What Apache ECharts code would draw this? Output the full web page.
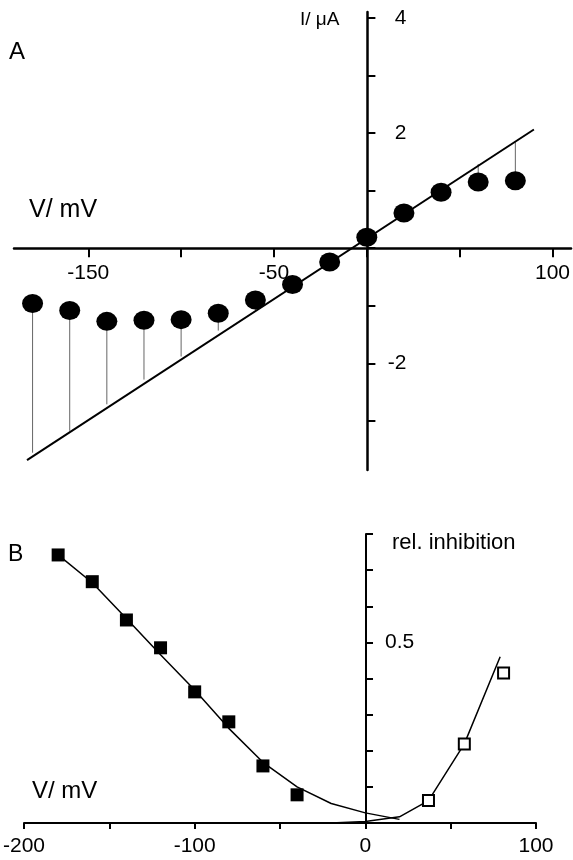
<!DOCTYPE html>
<html>
<head>
<meta charset="utf-8">
<script src="https://cdn.jsdelivr.net/npm/echarts@6/dist/echarts.min.js"></script>
<style>
  html, body { margin: 0; padding: 0; background: #fff; }
  #chart { width: 573px; height: 860px; }
</style>
</head>
<body>
<div id="chart"></div>
<script>
// Panel A: current-voltage relation
const voltA = [-180, -160, -140, -120, -100, -80, -60, -40, -20, 0, 20, 40, 60, 80];
const currentA = [-0.96, -1.08, -1.27, -1.25, -1.24, -1.13, -0.90, -0.63, -0.24, 0.19, 0.61, 0.97, 1.15, 1.17];
// where each thin drop line meets the straight line
const dropA = [-3.55, -3.17, -2.71, -2.28, -1.88, -1.43, -1.08, -0.65, -0.23, 0.19, 0.61, 1.03, 1.46, 1.84];
const fitVoltA = [-183, 90];
const fitCurrentA = [-3.68, 2.06];
const ticksXA = [-150, -100, -50, 0, 50, 100];
const labelsXA = [-150, -50, 100];
const ticksYA = [-3, -2, -1, 0, 1, 2, 3, 4];
const labelsYA = [-2, 2, 4];

// Panel B: relative inhibition
const voltB = [-180, -160, -140, -120, -100, -80, -60, -40];
const inhibB = [0.742, 0.668, 0.562, 0.485, 0.363, 0.280, 0.158, 0.078];
const voltBOpen = [37, 58, 81];
const inhibBOpen = [0.062, 0.219, 0.415];
const fitVoltB = [-180, -160, -140, -120, -100, -80, -60, -40, -20, 0, 20];
const fitInhibB = [0.742, 0.665, 0.566, 0.466, 0.368, 0.262, 0.168, 0.100, 0.054, 0.028, 0.010];
const fitVoltBOpen = [-20, 0, 20, 37, 58, 79];
const fitInhibBOpen = [0, 0.004, 0.017, 0.062, 0.219, 0.46];
const ticksXB = [-200, -150, -100, -50, 0, 50, 100];
const labelsXB = [-200, -100, 0, 100];
const ticksYB = [0.1, 0.2, 0.3, 0.4, 0.5, 0.6, 0.7, 0.8];
const labelsYB = [0.5];

const font = "'Liberation Sans', Arial, sans-serif";
const pairs = (xs, ys) => xs.map((x, i) => [x, ys[i]]);

// grid geometry (pixels)
const gridA = { left: 14, width: 558, top: 12, height: 458 };
const gridB = { left: 23, width: 513, top: 534, height: 289 };
const xMinA = -190, xMaxA = 110, yMinA = -3.85, yMaxA = 4.1;
const xMinB = -200, xMaxB = 100;

// axes cross at zero: shift them there with offsets
const zeroXA = gridA.width * (0 - xMinA) / (xMaxA - xMinA);
const zeroYA = gridA.height * (0 - yMinA) / (yMaxA - yMinA);
const zeroXB = gridB.width * (0 - xMinB) / (xMaxB - xMinB);

const chart = echarts.init(document.getElementById('chart'));

const option = {
    backgroundColor: '#fff',
    animation: false,
    grid: [gridA, gridB],
    xAxis: [
        {
            type: 'value', gridIndex: 0, min: xMinA, max: xMaxA,
            position: 'bottom', offset: -zeroYA,
            splitLine: { show: false },
            axisLine: { onZero: false, lineStyle: { color: '#000', width: 2.5 } },
            axisTick: { customValues: ticksXA, length: 9, lineStyle: { color: '#000', width: 2 } },
            axisLabel: { customValues: labelsXA, margin: 15, color: '#000', fontSize: 21, fontFamily: font }
        },
        {
            type: 'value', gridIndex: 1, min: xMinB, max: xMaxB,
            splitLine: { show: false },
            axisLine: { onZero: false, lineStyle: { color: '#000', width: 2 } },
            axisTick: { customValues: ticksXB, length: 6, lineStyle: { color: '#000', width: 2 } },
            axisLabel: { customValues: labelsXB, margin: 13, color: '#000', fontSize: 21, fontFamily: font }
        }
    ],
    yAxis: [
        {
            type: 'value', gridIndex: 0, min: yMinA, max: yMaxA,
            position: 'left', offset: -zeroXA,
            splitLine: { show: false },
            axisLine: { onZero: false, lineStyle: { color: '#000', width: 2.5 } },
            axisTick: { customValues: ticksYA, inside: true, length: 8, lineStyle: { color: '#000', width: 2 } },
            axisLabel: {
                customValues: labelsYA, inside: true, align: 'right', margin: 39,
                color: '#000', fontSize: 21, fontFamily: font
            }
        },
        {
            type: 'value', gridIndex: 1, min: 0, max: 0.8,
            position: 'left', offset: -zeroXB,
            splitLine: { show: false },
            axisLine: { onZero: false, lineStyle: { color: '#000', width: 2 } },
            axisTick: { customValues: ticksYB, inside: true, length: 7, lineStyle: { color: '#000', width: 2 } },
            axisLabel: {
                customValues: labelsYB, inside: true, align: 'left', margin: 19,
                color: '#000', fontSize: 21, fontFamily: font
            }
        }
    ],
    series: [
        {
            // thin drop lines from each point to the straight line
            type: 'custom', xAxisIndex: 0, yAxisIndex: 0, z: 1,
            encode: { x: 0, y: [1, 2] },
            data: voltA.map((v, i) => [v, currentA[i], dropA[i]]),
            renderItem: (params, api) => {
                const p1 = api.coord([api.value(0), api.value(1)]);
                const p2 = api.coord([api.value(0), api.value(2)]);
                return {
                    type: 'line',
                    shape: { x1: p1[0], y1: p1[1], x2: p2[0], y2: p2[1] },
                    style: { stroke: '#666', lineWidth: 1 }
                };
            }
        },
        {
            type: 'line', xAxisIndex: 0, yAxisIndex: 0, z: 2,
            data: pairs(fitVoltA, fitCurrentA),
            showSymbol: false,
            lineStyle: { color: '#000', width: 2 }
        },
        {
            type: 'scatter', xAxisIndex: 0, yAxisIndex: 0, z: 3,
            data: pairs(voltA, currentA),
            symbol: 'circle', symbolSize: [21, 19],
            itemStyle: { color: '#000', opacity: 1 }
        },
        {
            type: 'line', xAxisIndex: 1, yAxisIndex: 1, z: 2,
            data: pairs(fitVoltB, fitInhibB),
            showSymbol: false,
            lineStyle: { color: '#000', width: 1.5 }
        },
        {
            type: 'line', xAxisIndex: 1, yAxisIndex: 1, z: 2,
            data: pairs(fitVoltBOpen, fitInhibBOpen),
            showSymbol: false,
            lineStyle: { color: '#000', width: 1.5 }
        },
        {
            type: 'scatter', xAxisIndex: 1, yAxisIndex: 1, z: 3,
            data: pairs(voltB, inhibB),
            symbol: 'rect', symbolSize: 13,
            itemStyle: { color: '#000', opacity: 1 }
        },
        {
            type: 'scatter', xAxisIndex: 1, yAxisIndex: 1, z: 3,
            data: pairs(voltBOpen, inhibBOpen),
            symbol: 'rect', symbolSize: 11,
            itemStyle: { color: '#fff', borderColor: '#000', borderWidth: 2, opacity: 1 }
        }
    ],
    graphic: [
        { type: 'text', left: 9, top: 40, style: { text: 'A', font: '24px ' + font, fill: '#000' } },
        { type: 'text', left: 29, top: 198, style: { text: 'V/ mV', font: '25px ' + font, fill: '#000' } },
        { type: 'text', left: 300, top: 10, style: { text: 'I/ μA', font: '19px ' + font, fill: '#000' } },
        { type: 'text', left: 8, top: 543, style: { text: 'B', font: '23px ' + font, fill: '#000' } },
        { type: 'text', left: 32, top: 779, style: { text: 'V/ mV', font: '24px ' + font, fill: '#000' } },
        { type: 'text', left: 392, top: 532, style: { text: 'rel. inhibition', font: '22px ' + font, fill: '#000' } }
    ]
};

chart.setOption(option);
</script>
</body>
</html>
